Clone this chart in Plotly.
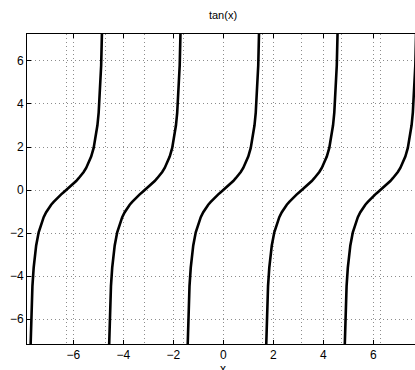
import plotly.graph_objects as go

# Branch centres (multiples of pi) for each tan(x) branch
branch_centers = [-6.2832, -3.1416, 0.0, 3.1416, 6.2832]
# One branch profile: offset from centre and value
profile_offset = [-1.45, -1.40, -1.35, -1.30, -1.25, -1.20, -1.10, -1.00, -0.90, -0.80,
                  -0.70, -0.60, -0.50, -0.40, -0.30, -0.20, -0.10, 0.00,
                  0.10, 0.20, 0.30, 0.40, 0.50, 0.60, 0.70, 0.80, 0.90, 1.00,
                  1.10, 1.20, 1.25, 1.30, 1.35, 1.40, 1.45]
profile_value = [-8.24, -5.80, -4.46, -3.60, -3.01, -2.57, -1.96, -1.56, -1.26, -1.03,
                 -0.84, -0.68, -0.55, -0.42, -0.31, -0.20, -0.10, 0.00,
                 0.10, 0.20, 0.31, 0.42, 0.55, 0.68, 0.84, 1.03, 1.26, 1.56,
                 1.96, 2.57, 3.01, 3.60, 4.46, 5.80, 8.24]

x_ticks = [-6, -4, -2, 0, 2, 4, 6]
y_ticks = [-6, -4, -2, 0, 2, 4, 6]
tick_text = ["\u22126", "\u22124", "\u22122", "0", "2", "4", "6"]
half_pi_lines = [-6.2832, -4.7124, -3.1416, -1.5708, 0.0, 1.5708, 3.1416, 4.7124, 6.2832]

xs, ys = [], []
for c in branch_centers:
    xs += [c + u for u in profile_offset] + [None]
    ys += list(profile_value) + [None]

fig = go.Figure()
fig.add_trace(go.Scatter(x=xs, y=ys, mode="lines",
                         line=dict(color="black", width=2.6),
                         connectgaps=False, hoverinfo="skip"))

W, H = 415, 370
PLOT_H = 310
font = "Liberation Sans, Arial, Helvetica, sans-serif"
grid = dict(showgrid=True, gridcolor="#8c8c8c", griddash="1px,3px", gridwidth=1)
fig.update_layout(
    width=W, height=H,
    margin=dict(l=27, r=0, t=34, b=26, autoexpand=False),
    paper_bgcolor="white", plot_bgcolor="white",
    showlegend=False,
    font=dict(family=font, size=12, color="black"),
    title=dict(text="tan(x)", x=223 / W, xref="container", xanchor="center",
               y=1 - 15 / H, yref="container", yanchor="middle",
               automargin=False,
               font=dict(family=font, size=11, color="black")),
)
# x-axis label, below the tick labels (partly cut by the page edge as in the original)
fig.add_annotation(text="x", xref="x", x=0, yref="paper", y=-25 / PLOT_H,
                   xanchor="center", yanchor="middle", showarrow=False,
                   font=dict(family=font, size=12, color="black"))
fig.update_xaxes(
    range=[-7.85, 7.67], tickmode="array", tickvals=x_ticks, ticktext=tick_text,
    ticks="inside", ticklen=4, tickcolor="black", tickwidth=1,
    showline=True, linecolor="black", linewidth=1, mirror="ticks",
    zeroline=False, automargin=False,
    minor=dict(tickmode="array", tickvals=half_pi_lines, ticks="", **grid),
    tickfont=dict(family=font, size=12),
    **grid,
)
fig.update_yaxes(
    range=[-7.15, 7.25], tickmode="array", tickvals=y_ticks, ticktext=tick_text,
    ticks="inside", ticklen=4, tickcolor="black", tickwidth=1,
    showline=True, linecolor="black", linewidth=1, mirror=False,
    zeroline=False, automargin=False, tickfont=dict(family=font, size=12),
    **grid,
)

fig.write_html("out.html",
               config={"displayModeBar": False, "staticPlot": True},
               post_script="document.body.style.margin='0';"
                           "document.body.style.overflow='hidden';")
